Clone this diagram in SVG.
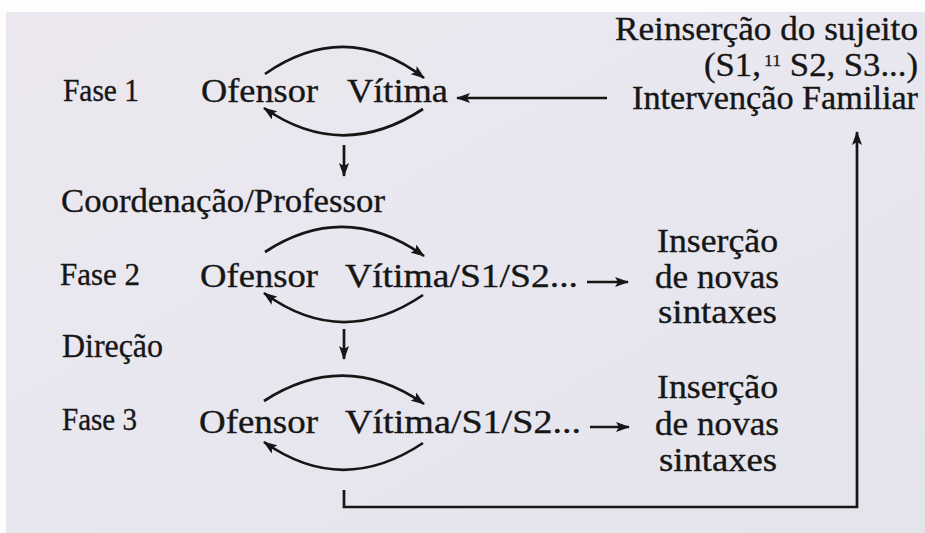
<svg xmlns="http://www.w3.org/2000/svg" width="925" height="533" viewBox="0 0 925 533">
  <defs>
    <linearGradient id="page" x1="0" y1="0" x2="1" y2="1">
      <stop offset="0" stop-color="#ece7ef"/>
      <stop offset="0.5" stop-color="#e8e7ef"/>
      <stop offset="1" stop-color="#e4e4ec"/>
    </linearGradient>
    <marker id="ah" viewBox="0 0 14 10" refX="13" refY="5" markerWidth="14" markerHeight="10" markerUnits="userSpaceOnUse" orient="auto">
      <path d="M0,0 L14,5 L0,10 L3,5 Z" fill="#161616"/>
    </marker>
  </defs>
  <style>
    text { font-family: "Liberation Serif", "Times New Roman", serif; fill: #161616; stroke: #161616; stroke-width: 0.35; font-size: 33px; }
    .fase { font-size: 31px; }
    .sup { font-size: 17px; stroke-width: 0.25; }
    .ln { fill: none; stroke: #161616; stroke-width: 2.7; stroke-linecap: butt; }
    .arr { marker-end: url(#ah); }
  </style>
  <rect x="0" y="0" width="925" height="533" fill="#fdfdfd"/>
  <rect x="6" y="12" width="919" height="521" fill="url(#page)"/>

  <g id="reinsercao">
    <text x="615" y="40" textLength="303" lengthAdjust="spacingAndGlyphs">Reinserção do sujeito</text>
    <text x="704" y="76" textLength="214" lengthAdjust="spacingAndGlyphs">(S1,<tspan class="sup" dx="3" dy="-10">11</tspan><tspan dy="10"> S2, S3...)</tspan></text>
  </g>
  <g id="intervencao">
    <text x="632" y="109" textLength="286" lengthAdjust="spacingAndGlyphs">Intervenção Familiar</text>
  </g>

  <g id="fase1">
    <text class="fase" x="63" y="101" textLength="76" lengthAdjust="spacingAndGlyphs">Fase 1</text>
    <text x="201" y="102" textLength="117" lengthAdjust="spacingAndGlyphs">Ofensor</text>
    <text x="347" y="102" textLength="101" lengthAdjust="spacingAndGlyphs">Vítima</text>
  </g>

  <g id="coordenacao">
    <text x="61" y="212" textLength="324" lengthAdjust="spacingAndGlyphs">Coordenação/Professor</text>
  </g>

  <g id="fase2">
    <text class="fase" x="60" y="285" textLength="80" lengthAdjust="spacingAndGlyphs">Fase 2</text>
    <text x="200" y="287" textLength="118" lengthAdjust="spacingAndGlyphs">Ofensor</text>
    <text x="345" y="287" textLength="233" lengthAdjust="spacingAndGlyphs">Vítima/S1/S2...</text>
  </g>
  <g id="insercao2">
    <text x="657" y="252" textLength="121" lengthAdjust="spacingAndGlyphs">Inserção</text>
    <text x="655" y="288" textLength="124" lengthAdjust="spacingAndGlyphs">de novas</text>
    <text x="658" y="323" textLength="119" lengthAdjust="spacingAndGlyphs">sintaxes</text>
  </g>

  <g id="direcao">
    <text x="62" y="357" textLength="101" lengthAdjust="spacingAndGlyphs">Direção</text>
  </g>

  <g id="fase3">
    <text class="fase" x="62" y="430" textLength="75" lengthAdjust="spacingAndGlyphs">Fase 3</text>
    <text x="199" y="433" textLength="119" lengthAdjust="spacingAndGlyphs">Ofensor</text>
    <text x="345" y="433" textLength="236" lengthAdjust="spacingAndGlyphs">Vítima/S1/S2...</text>
  </g>
  <g id="insercao3">
    <text x="657" y="398" textLength="121" lengthAdjust="spacingAndGlyphs">Inserção</text>
    <text x="655" y="435" textLength="124" lengthAdjust="spacingAndGlyphs">de novas</text>
    <text x="659" y="471" textLength="118" lengthAdjust="spacingAndGlyphs">sintaxes</text>
  </g>

  <g id="connectors">
    <path class="ln arr" d="M265,74 Q346,18 424,78"/>
    <path class="ln arr" d="M423,109 Q342,162 264,108"/>
    <path class="ln arr" d="M607,98 H457"/>
    <path class="ln arr" d="M344,145 V176"/>
    <path class="ln arr" d="M265,252 Q345,200 424,256"/>
    <path class="ln arr" d="M423,295 Q342,350 264,293"/>
    <path class="ln arr" d="M587,282 H628"/>
    <path class="ln arr" d="M344,329 V359"/>
    <path class="ln arr" d="M264,401 Q345,349 424,404"/>
    <path class="ln arr" d="M423,443 Q342,497 264,442"/>
    <path class="ln arr" d="M590,427 H629"/>
    <path class="ln arr" d="M344,490 V507 H857 V132"/>
  </g>
</svg>
